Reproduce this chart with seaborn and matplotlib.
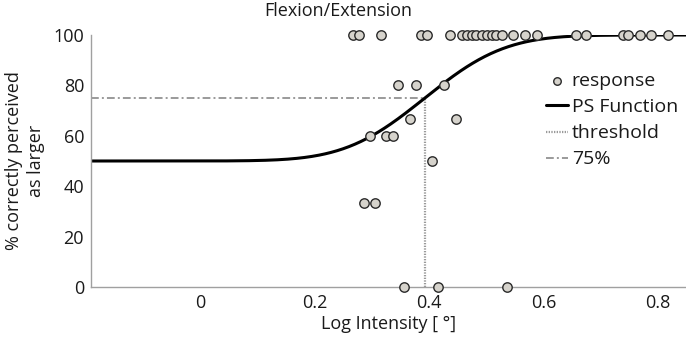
import numpy as np
import pandas as pd
import matplotlib
matplotlib.use("Agg")
import matplotlib.pyplot as plt
import seaborn as sns

# ---- data ----
top_x = [0.267, 0.278, 0.316, 0.387, 0.396, 0.437, 0.457, 0.466, 0.475, 0.483,
         0.492, 0.501, 0.510, 0.518, 0.527, 0.547, 0.568, 0.588, 0.657, 0.675,
         0.739, 0.748, 0.769, 0.788, 0.818]
mid_x = [0.346, 0.377, 0.427, 0.367, 0.447, 0.297, 0.326, 0.337, 0.406,
         0.286, 0.306, 0.357, 0.416, 0.537]
mid_y = [80, 80, 80, 66.7, 66.7, 60, 60, 60, 50, 33.3, 33.3, 0, 0, 0]

threshold = 0.393      # log intensity at 75 %
sigma = 0.11           # spread of fitted PS function
guess_rate = 50
level75 = 75
xticks = [0, 0.2, 0.4, 0.6, 0.8]
yticks = [0, 20, 40, 60, 80, 100]
xlim = (-0.19, 0.849)

resp = pd.DataFrame({"x": top_x + mid_x, "y": [100] * len(top_x) + mid_y})

# fitted psychometric function (cumulative normal)
from math import erf
xs = np.linspace(xlim[0], xlim[1], 400)
ps = guess_rate + (100 - guess_rate) * 0.5 * (1 + np.array([erf((v - threshold) / (sigma * np.sqrt(2))) for v in xs]))
curve = pd.DataFrame({"x": xs, "y": ps})

sns.set_style("white")
plt.rcParams["font.family"] = ["Open Sans", "DejaVu Sans"]
FS = 13

fig = plt.figure(figsize=(6.86, 3.37), dpi=100)
ax = fig.add_axes([91 / 686, 1 - 287 / 337, 1 - 91 / 686, (287 - 35) / 337])

grey = "#9a9a9a"
ax.plot([xlim[0], threshold], [level75, level75], color=grey, lw=1.4,
        linestyle=(0, (4, 1.6, 1, 1.6)), label="75%", zorder=1)
ax.plot([threshold, threshold], [0, level75], color=grey, lw=1.6,
        linestyle=(0, (0.6, 0.6)), label="threshold", zorder=1)
sns.lineplot(data=curve, x="x", y="y", ax=ax, color="black", lw=2.2,
             label="PS Function", zorder=2)
sns.scatterplot(data=resp, x="x", y="y", ax=ax, s=46, color="#d6d3cc",
                edgecolor="#2a2a2a", linewidth=1.0, label="response",
                zorder=3, clip_on=False)

ax.set_xlim(*xlim)
ax.set_ylim(0, 100)
ax.set_xticks(xticks)
ax.set_xticklabels(["0", "0.2", "0.4", "0.6", "0.8"])
ax.set_yticks(yticks)
for s in ["top", "right"]:
    ax.spines[s].set_visible(False)
for s in ["left", "bottom"]:
    ax.spines[s].set_color("#a0a0a0")
    ax.spines[s].set_linewidth(1.0)
ax.tick_params(direction="in", length=4, width=1, color="#a0a0a0",
               labelsize=FS, labelcolor="#1a1a1a", pad=5)
ax.set_xlabel("Log Intensity [ °]", fontsize=FS, color="#1a1a1a", labelpad=2)
ax.set_ylabel("% correctly perceived\nas larger", fontsize=FS, color="#1a1a1a",
              linespacing=1.3, labelpad=6)
fig.text(338 / 686, 1 - 11 / 337, "Flexion/Extension", ha="center", va="center",
         fontsize=FS, color="#1a1a1a")

h, l = ax.get_legend_handles_labels()
order = [l.index(n) for n in ["response", "PS Function", "threshold", "75%"]]
leg = ax.legend([h[i] for i in order], [l[i] for i in order], loc="upper left",
                bbox_to_anchor=(546 / 686, 1 - 72 / 337), bbox_transform=fig.transFigure,
                frameon=False, fontsize=14, handlelength=1.15, handletextpad=0.18,
                labelspacing=0.42, borderpad=0, borderaxespad=0, markerscale=0.8)
for t in leg.get_texts():
    t.set_color("#1a1a1a")

fig.savefig("out.png", dpi=100)
